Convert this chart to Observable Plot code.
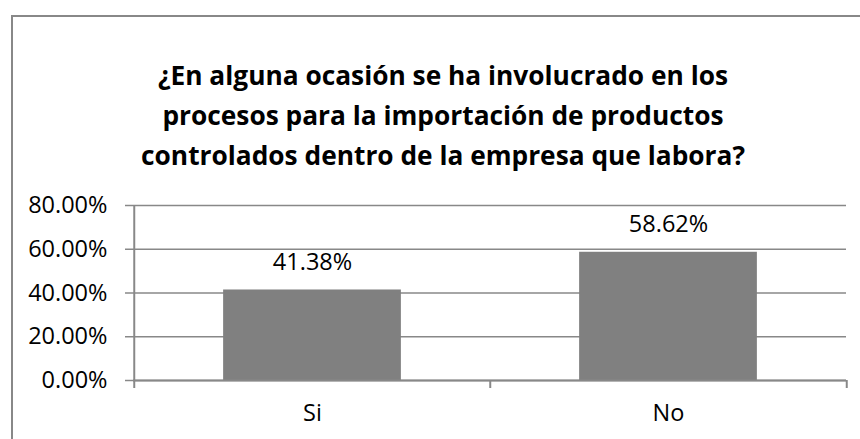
<!DOCTYPE html>
<html>
<head>
<meta charset="utf-8">
<script src="https://cdn.jsdelivr.net/npm/d3@7"></script>
<script src="https://cdn.jsdelivr.net/npm/@observablehq/plot@0.6"></script>
<style>
  html, body { margin: 0; padding: 0; background: #fff; }
  #wrap { position: relative; width: 860px; height: 439px; overflow: hidden; font-family: "Open Sans", Lato, sans-serif; }
  #frame { position: absolute; left: 11px; top: 15px; width: 900px; height: 500px; border-left: 2px solid #888; border-top: 2px solid #888; box-sizing: border-box; }
  #title { position: absolute; left: 0; top: 55px; width: 886px; text-align: center; font-weight: bold; font-size: 26.3px; line-height: 40px; color: #000; }
  #chart { position: absolute; left: 0; top: 190px; }
</style>
</head>
<body>
<div id="wrap">
  <div id="frame"></div>
  <div id="title">¿En alguna ocasión se ha involucrado en los<br>procesos para la importación de productos<br>controlados dentro de la empresa que labora?</div>
  <div id="chart"></div>
</div>
<script>
const categories = ["Si", "No"];
const values = [0.4138, 0.5862];
const yTicks = [0, 0.2, 0.4, 0.6, 0.8];

const data = categories.map((c, i) => ({category: c, value: values[i]}));

const width = 860, height = 249;
const marginLeft = 133, marginRight = 14, marginTop = 15, marginBottom = 59;
const bw = (width - marginLeft - marginRight) / categories.length;
const gray = "#888";
const fmt = d3.format(".2%");

const plot = Plot.plot({
  width, height, marginLeft, marginRight, marginTop, marginBottom,
  style: {fontFamily: "'Open Sans', Lato, sans-serif", fontSize: "23.5px", color: "#000", background: "transparent", overflow: "visible"},
  x: {domain: categories, padding: 0, paddingInner: 0, paddingOuter: 0},
  y: {domain: [0, 0.8]},
  marks: [
    Plot.gridY(yTicks, {stroke: gray, strokeOpacity: 1, strokeWidth: 1.5}),
    Plot.barY(data, {x: "category", y: "value", fill: "#808080", insetLeft: bw / 4, insetRight: bw / 4}),
    Plot.ruleY([0], {stroke: gray, strokeWidth: 2}),
    Plot.axisY({ticks: yTicks, tickFormat: fmt, tickSize: 8, tickPadding: 18, stroke: gray, strokeWidth: 1.5, label: null, fill: "#000"}),
    Plot.ruleX([categories[0]], {dx: -bw / 2, stroke: gray, strokeWidth: 2}),
    Plot.axisX({tickSize: 8, tickFormat: () => "", dx: -bw / 2, stroke: gray, strokeWidth: 2, label: null}),
    Plot.axisX([categories[categories.length - 1]], {tickSize: 8, tickFormat: () => "", dx: bw / 2, stroke: gray, strokeWidth: 2, label: null}),
    Plot.axisX({tickSize: 0, tickPadding: 24, label: null, fill: "#000"}),
    Plot.text(data, {x: "category", y: "value", text: d => fmt(d.value), dy: -28, fill: "#000", fontSize: 23.5})
  ]
});
document.getElementById("chart").appendChild(plot);
</script>
</body>
</html>
